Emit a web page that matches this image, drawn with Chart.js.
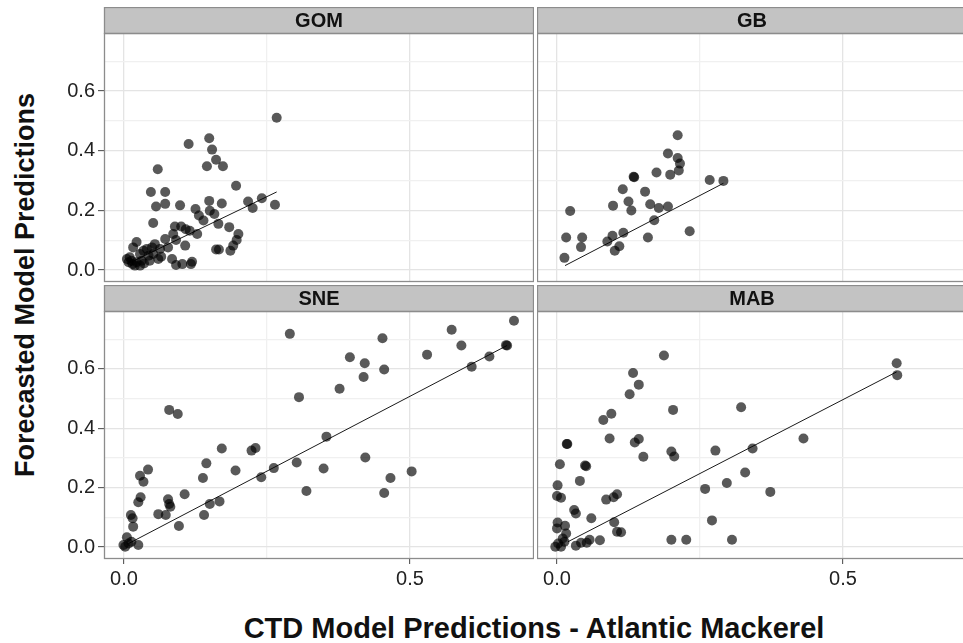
<!DOCTYPE html>
<html>
<head>
<meta charset="utf-8">
<script src="https://cdn.jsdelivr.net/npm/chart.js@4"></script>
<style>
html, body { margin:0; padding:0; background:#fff; overflow:hidden; width:963px; height:643px; }
canvas { position:absolute; }
#ytitle { position:absolute; left:25px; top:285px; transform:translate(-50%,-50%) rotate(-90deg);
  font:bold 27px "Liberation Sans", Arial, sans-serif; white-space:nowrap; color:#111; }
#xtitle { position:absolute; left:534px; top:628px; transform:translate(-50%,-50%);
  font:bold 29px "Liberation Sans", Arial, sans-serif; white-space:nowrap; color:#111; }
</style>
</head>
<body>
<div id="ytitle">Forecasted Model Predictions</div>
<div id="xtitle">CTD Model Predictions - Atlantic Mackerel</div>
<script>
// tick values
const xMajor = [0, 0.5];
const xMinor = [0.25];
const yMajor = [0, 0.2, 0.4, 0.6];
const yMinor = [0.1, 0.3, 0.5, 0.7];

// GOM
const gomX = [0.267,0.113,0.149,0.154,0.161,0.145,0.173,0.059,0.196,0.047,0.072,0.056,0.072,0.098,0.149,0.171,0.217,0.225,0.241,0.264,
  0.125,0.150,0.158,0.131,0.139,0.165,0.051,0.184,0.089,0.100,0.108,0.115,0.128,0.200,0.197,0.191,0.186,0.161,0.166,0.086,
  0.091,0.107,0.072,0.054,0.049,0.022,0.016,0.034,0.010,0.005,0.013,0.022,0.028,0.043,0.051,0.060,0.063,0.084,0.091,0.102,
  0.117,0.119,0.077,0.040,0.028,0.008,0.019,0.031,0.045,0.015,0.035,0.065];
const gomY = [0.511,0.423,0.442,0.404,0.370,0.348,0.348,0.338,0.283,0.262,0.262,0.213,0.222,0.217,0.232,0.223,0.230,0.208,0.241,0.219,
  0.205,0.199,0.188,0.183,0.166,0.155,0.158,0.144,0.146,0.146,0.137,0.132,0.121,0.121,0.101,0.082,0.065,0.069,0.069,0.121,
  0.101,0.082,0.104,0.087,0.076,0.094,0.076,0.065,0.043,0.037,0.031,0.026,0.015,0.048,0.054,0.037,0.071,0.037,0.017,0.020,
  0.020,0.028,0.076,0.071,0.054,0.026,0.015,0.031,0.031,0.020,0.022,0.045];
const gomFitX = [0.005, 0.267];
const gomFitY = [0.020, 0.262];

// GB
const gbX = [0.211,0.194,0.211,0.215,0.213,0.198,0.174,0.135,0.134,0.267,0.291,0.115,0.154,0.125,0.098,0.130,0.163,0.178,0.194,0.170,
  0.023,0.232,0.159,0.016,0.044,0.042,0.097,0.088,0.116,0.109,0.101,0.013];
const gbY = [0.452,0.391,0.376,0.357,0.334,0.320,0.327,0.311,0.313,0.302,0.299,0.271,0.263,0.230,0.216,0.200,0.221,0.208,0.213,0.167,
  0.198,0.130,0.109,0.109,0.109,0.077,0.115,0.096,0.125,0.080,0.065,0.041];
const gbFitX = [0.014, 0.291];
const gbFitY = [0.015, 0.291];

// SNE
const sneX = [0.682,0.573,0.590,0.668,0.670,0.639,0.608,0.530,0.452,0.455,0.421,0.419,0.395,0.377,0.290,0.306,0.354,0.422,0.503,0.466,
  0.455,0.349,0.302,0.319,0.262,0.240,0.230,0.223,0.171,0.195,0.144,0.138,0.167,0.150,0.140,0.079,0.094,0.106,0.096,0.077,
  0.079,0.081,0.073,0.060,0.042,0.028,0.034,0.029,0.025,0.012,0.015,0.016,0.005,-0.001,0.008,0.013,0.025,0.002];
const sneY = [0.762,0.732,0.679,0.680,0.679,0.642,0.607,0.648,0.703,0.598,0.619,0.573,0.639,0.533,0.718,0.505,0.372,0.302,0.255,0.233,
  0.182,0.265,0.285,0.189,0.266,0.235,0.334,0.325,0.332,0.258,0.282,0.233,0.154,0.145,0.108,0.462,0.448,0.178,0.071,0.161,
  0.145,0.136,0.108,0.111,0.261,0.240,0.220,0.168,0.151,0.108,0.097,0.069,0.033,0.007,0.012,0.018,0.007,0.001];
const sneFitX = [0.008, 0.670];
const sneFitY = [0.012, 0.679];

// MAB
const mabX = [0.187,0.594,0.595,0.133,0.143,0.127,0.322,0.203,0.095,0.081,0.092,0.431,0.136,0.143,0.151,0.200,0.205,0.277,0.342,0.329,
  0.017,0.018,0.005,0.049,0.051,0.040,0.001,0.000,0.007,0.086,0.099,0.105,0.259,0.297,0.373,0.030,0.033,0.060,0.100,0.105,
  0.112,0.271,0.200,0.226,0.306,0.075,0.057,0.052,0.042,0.033,0.001,0.000,0.014,0.016,0.010,0.002,-0.003,0.007,0.013];
const mabY = [0.645,0.619,0.579,0.586,0.547,0.515,0.471,0.462,0.449,0.428,0.366,0.366,0.352,0.364,0.304,0.322,0.305,0.325,0.332,0.251,
  0.347,0.347,0.279,0.275,0.272,0.223,0.208,0.172,0.166,0.160,0.168,0.178,0.196,0.216,0.186,0.125,0.113,0.097,0.084,0.052,
  0.050,0.090,0.025,0.025,0.025,0.023,0.025,0.015,0.015,0.005,0.083,0.063,0.072,0.046,0.029,0.012,0.001,0.001,0.018];
const mabFitX = [0.019, 0.594];
const mabFitY = [0.018, 0.590];

const xMin = -0.035, xMax = 0.717;
const yMin = -0.040, yMax = 0.795;

Chart.defaults.font.family = "'Liberation Sans', Arial, sans-serif";

function genPanel(name, left, top, w, h, yAxisW, xAxisH, showX, xs, ys, fx, fy){
    let canvas = document.createElement("canvas");
    canvas.width = w;
    canvas.height = h;
    canvas.style.left = left + "px";
    canvas.style.top = top + "px";
    document.body.appendChild(canvas);

    let pts = xs.map((x, i) => ({x: x, y: ys[i]}));
    let fit = fx.map((x, i) => ({x: x, y: fy[i]}));

    let strip = {
        id: 'strip',
        afterDraw(chart){
            let a = chart.chartArea, ctx = chart.ctx;
            ctx.save();
            ctx.fillStyle = '#c3c3c3';
            ctx.fillRect(a.left, a.top - 26, a.right - a.left, 26);
            ctx.strokeStyle = '#8c8c8c';
            ctx.lineWidth = 1.3;
            ctx.strokeRect(a.left + 0.5, a.top - 25.5, a.right - a.left - 1, 26);
            ctx.strokeRect(a.left + 0.5, a.top + 0.5, a.right - a.left - 1, a.bottom - a.top - 1);
            ctx.fillStyle = '#111';
            ctx.font = 'bold 20px "Liberation Sans", Arial, sans-serif';
            ctx.textAlign = 'center';
            ctx.textBaseline = 'middle';
            ctx.fillText(name, (a.left + a.right) / 2, a.top - 12);
            ctx.restore();
        }
    };

    let gridColor = (major) => (c) => major.includes(c.tick.value) ? '#e4e4e4' : '#f0f0f0';
    let tickColor = (major) => (c) => major.includes(c.tick.value) ? '#444' : 'rgba(0,0,0,0)';

    new Chart(canvas.getContext('2d'), {
        type: 'scatter',
        data: {
            datasets: [{
                data: pts,
                pointRadius: 5,
                pointHoverRadius: 5,
                backgroundColor: 'rgba(0,0,0,0.65)',
                borderWidth: 0
            }, {
                data: fit,
                showLine: true,
                pointRadius: 0,
                borderColor: 'rgba(0,0,0,0.9)',
                borderWidth: 1
            }]
        },
        options: {
            responsive: false,
            animation: false,
            events: [],
            layout: {padding: {top: 26}, autoPadding: false},
            plugins: {legend: {display: false}, tooltip: {enabled: false}},
            scales: {
                x: {
                    type: 'linear', min: xMin, max: xMax,
                    afterBuildTicks: s => { s.ticks = xMajor.concat(xMinor).sort().map(v => ({value: v})); },
                    afterFit: s => { s.height = xAxisH; },
                    ticks: {display: showX, autoSkip: false, maxRotation: 0, color: '#222', font: {size: 20}, padding: 3,
                        callback: v => xMajor.includes(v) ? v.toFixed(1) : ''},
                    grid: {color: gridColor(xMajor), lineWidth: 1.3, drawTicks: showX, tickLength: 5,
                        tickColor: tickColor(xMajor), tickWidth: 1},
                    border: {display: false}
                },
                y: {
                    type: 'linear', min: yMin, max: yMax,
                    afterBuildTicks: s => { s.ticks = yMajor.concat(yMinor).sort().map(v => ({value: v})); },
                    afterFit: s => { s.width = yAxisW; },
                    ticks: {display: yAxisW > 0, autoSkip: false, color: '#222', font: {size: 20}, padding: 3,
                        callback: v => yMajor.includes(v) ? v.toFixed(1) : ''},
                    grid: {color: gridColor(yMajor), lineWidth: 1.3, drawTicks: yAxisW > 0, tickLength: 6,
                        tickColor: tickColor(yMajor), tickWidth: 1},
                    border: {display: false}
                }
            }
        },
        plugins: [strip]
    });
}

// top row: an empty 20px x-axis band keeps the plot area from shrinking
genPanel('GOM', 0, 7, 534, 295, 104, 20, false, gomX, gomY, gomFitX, gomFitY);
genPanel('GB', 537, 7, 430, 295, 0, 20, false, gbX, gbY, gbFitX, gbFitY);
genPanel('SNE', 0, 285, 534, 309, 104, 35, true, sneX, sneY, sneFitX, sneFitY);
genPanel('MAB', 537, 285, 430, 309, 0, 35, true, mabX, mabY, mabFitX, mabFitY);
</script>
</body>
</html>
